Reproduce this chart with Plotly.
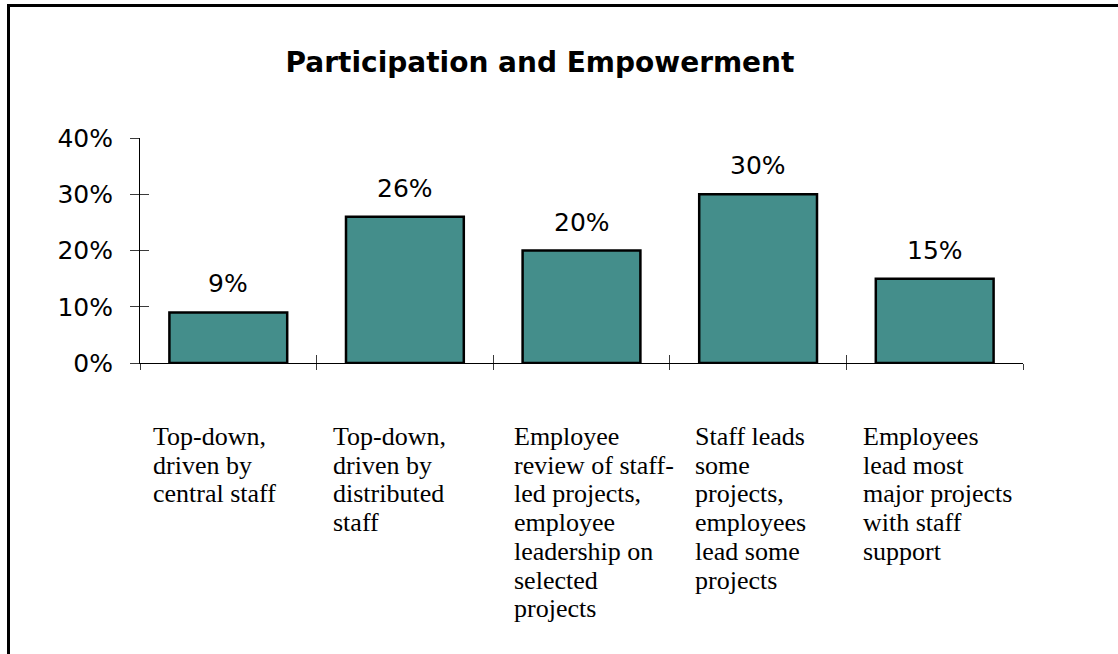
import plotly.graph_objects as go

# ---- data ----
categories = [
    "Top-down,<br>driven by<br>central staff",
    "Top-down,<br>driven by<br>distributed<br>staff",
    "Employee<br>review of staff-<br>led projects,<br>employee<br>leadership on<br>selected<br>projects",
    "Staff leads<br>some<br>projects,<br>employees<br>lead some<br>projects",
    "Employees<br>lead most<br>major projects<br>with staff<br>support",
]
values = [0.09, 0.26, 0.20, 0.30, 0.15]
value_labels = ["9%", "26%", "20%", "30%", "15%"]
y_tickvals = [0, 0.1, 0.2, 0.3, 0.4]
y_ticktext = ["0%", "10%", "20%", "30%", "40%"]
title_text = "Participation and Empowerment"

# ---- layout constants ----
W, H = 1118, 654
ML, MR, MT, MB = 140, 95, 138, 291
PW, PH = W - ML - MR, H - MT - MB
BAR_COLOR = "#448E8B"
TICK_COLOR = "#3a3a3a"
SANS = "DejaVu Sans"
SERIF = "Liberation Serif, Times New Roman, serif"
label_xshift = [11, 14, 19, 23, 15]
LINE_STEP = 28.7
FIRST_LINE_MID = 436.5  # pixel y of first label line middle

n = len(categories)
idx = list(range(n))

fig = go.Figure()
fig.add_trace(go.Bar(
    x=idx, y=values, width=0.667,
    marker=dict(color=BAR_COLOR, line=dict(color="black", width=2.5)),
    showlegend=False, hoverinfo="skip",
))
fig.add_trace(go.Scatter(x=[], y=[], xaxis="x2", yaxis="y2", showlegend=False))

boundaries = [i - 0.5 for i in range(n + 1)]

fig.update_layout(
    width=W, height=H,
    margin=dict(l=ML, r=MR, t=MT, b=MB, pad=0),
    paper_bgcolor="white", plot_bgcolor="white",
    font=dict(family=SANS, color="black"),
    xaxis=dict(range=[-0.5, n - 0.5], tickvals=boundaries, showticklabels=False,
               ticks="outside", ticklen=6, tickcolor=TICK_COLOR, tickwidth=1,
               showline=True, linecolor="black", linewidth=1, showgrid=False, zeroline=False,
               fixedrange=True),
    yaxis=dict(range=[0, 0.4], tickvals=y_tickvals, ticktext=y_ticktext,
               ticks="outside", ticklen=9, tickcolor=TICK_COLOR, tickwidth=1,
               tickfont=dict(family=SANS, size=25, color="black"), ticklabelstandoff=12,
               showline=True, linecolor="black", linewidth=1, showgrid=False, zeroline=False),
    xaxis2=dict(overlaying="x", anchor="y2", range=[-0.5, n - 0.5], tickvals=boundaries,
                showticklabels=False, ticks="inside", ticklen=8, tickcolor=TICK_COLOR,
                tickwidth=1, showline=False, showgrid=False, zeroline=False),
    yaxis2=dict(overlaying="y", anchor="x2", range=[0, 0.4], tickvals=y_tickvals,
                showticklabels=False, ticks="inside", ticklen=9, tickcolor=TICK_COLOR,
                tickwidth=1, showline=False, showgrid=False, zeroline=False, side="left"),
    title=dict(text=title_text, x=540 / W, xref="container", xanchor="center",
               y=1 - 62 / H, yref="container", yanchor="middle",
               font=dict(family=SANS, size=28, color="black", weight="bold")),
)

# value labels above bars
for i, (v, t) in enumerate(zip(values, value_labels)):
    fig.add_annotation(x=i, y=v, xref="x", yref="y", text=t, showarrow=False,
                       xanchor="center", yanchor="bottom", yshift=12,
                       font=dict(family=SANS, size=25, color="black"))

# category labels, one annotation per line
for i, cat in enumerate(categories):
    for k, line in enumerate(cat.split("<br>")):
        ypix = FIRST_LINE_MID + k * LINE_STEP
        fig.add_annotation(x=i / n, y=0, xref="paper", yref="paper",
                           xshift=label_xshift[i], yshift=-(ypix - (H - MB)),
                           text=line, showarrow=False, xanchor="left", yanchor="middle",
                           font=dict(family=SERIF, size=26, color="black"))

# outer frame (top and left edges)
def px_x(p):
    return (p - ML) / PW

def px_y(p):
    return (H - MB - p) / PH

fig.add_shape(type="line", xref="paper", yref="paper",
              x0=px_x(8.5), x1=px_x(W + 5), y0=px_y(5.5), y1=px_y(5.5),
              line=dict(color="black", width=3), layer="above")
fig.add_shape(type="line", xref="paper", yref="paper",
              x0=px_x(8.5), x1=px_x(8.5), y0=px_y(4), y1=px_y(H + 5),
              line=dict(color="black", width=3), layer="above")

fig.write_html("out.html")
